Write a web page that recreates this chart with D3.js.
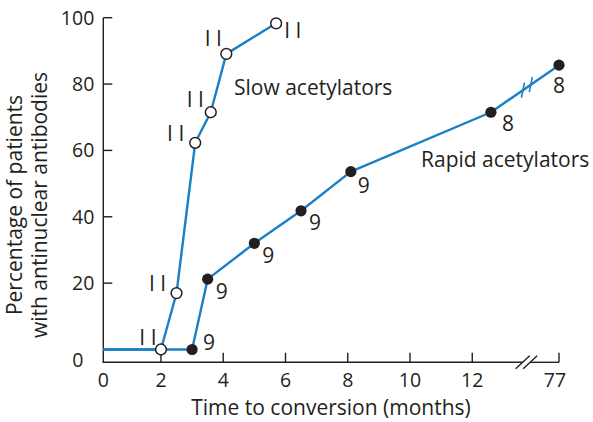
<!DOCTYPE html>
<html><head><meta charset="utf-8">
<script src="https://cdn.jsdelivr.net/npm/d3@7"></script>
<style>
body{margin:0;background:#fff}
text{font-family:"Open Sans",sans-serif;fill:#231f20}
</style>
</head><body>
<svg id="c" width="593" height="422"></svg>
<script>
// ---- data ----
const xTickValues = [2, 4, 6, 8, 10, 12, 77];
const yTickValues = [20, 40, 60, 80, 100];
const slowMonths = [2, 2.5, 3.1, 3.6, 4.1, 5.7];
const slowPct    = [0, 17, 62.3, 71.5, 89.1, 98.3];
const slowN      = ["I I", "I I", "I I", "I I", "I I", "I I"];
const rapidMonths = [3, 3.5, 5.0, 6.5, 8.1, 12.6, 77];
const rapidPct    = [0, 21.2, 32.0, 41.8, 53.6, 71.5, 85.7];
const rapidN      = ["9", "9", "9", "9", "9", "8", "8"];
const startMonth = 0, startPct = 0;
const seriesNames = ["Slow acetylators", "Rapid acetylators"];

// ---- layout ----
const svg = d3.select("#c");
const ink = "#231f20", blue = "#1b7fc6";
const origin = {x: 103.3, y: 362.3};
const x = d3.scaleLinear().domain([0, 14, 77]).range([98.7, 98.7 + 14 * 31.13, 559]);
const y = d3.scaleLinear().domain([0, 100]).range([349.5, 17.7]);
const fsTick = 19.5, fs = 21;

// clip so lines start at the y axis
svg.append("clipPath").attr("id", "clip").append("rect")
  .attr("x", origin.x).attr("y", 0).attr("width", 593).attr("height", 422);

// axes
const xEnd = x(77);
const b1 = x(13.62), b2 = x(13.86);
const axis = svg.append("g").attr("stroke", ink).attr("stroke-width", 1.4).attr("fill", "none");
axis.append("line").attr("x1", origin.x).attr("x2", origin.x).attr("y1", y(100)).attr("y2", origin.y);
axis.append("line").attr("x1", origin.x - 0.7).attr("x2", b1).attr("y1", origin.y).attr("y2", origin.y);
axis.append("line").attr("x1", b2).attr("x2", xEnd).attr("y1", origin.y).attr("y2", origin.y);
[b1, b2].forEach(bx => axis.append("line")
  .attr("x1", bx - 7).attr("y1", origin.y + 6.5).attr("x2", bx + 7).attr("y2", origin.y - 6.5));
// ticks
yTickValues.forEach(v => axis.append("line")
  .attr("x1", origin.x).attr("x2", origin.x + 9).attr("y1", y(v)).attr("y2", y(v)));
xTickValues.forEach(v => axis.append("line")
  .attr("x1", x(v)).attr("x2", x(v)).attr("y1", origin.y).attr("y2", origin.y - 9.5));

// tick labels
yTickValues.forEach(v => svg.append("text").attr("x", origin.x - 9).attr("y", y(v)).attr("dy", "0.35em")
  .attr("text-anchor", "end").attr("font-size", fsTick).text(v));
svg.append("text").attr("x", origin.x - 20).attr("y", origin.y - 2).attr("dy", "0.35em")
  .attr("text-anchor", "end").attr("font-size", fsTick).text(0);
xTickValues.forEach(v => svg.append("text").attr("x", x(v) - (v === 77 ? 4 : 0)).attr("y", 380).attr("dy", "0.35em")
  .attr("text-anchor", "middle").attr("font-size", fsTick).text(v));
svg.append("text").attr("x", origin.x).attr("y", 380).attr("dy", "0.35em")
  .attr("text-anchor", "middle").attr("font-size", fsTick).text(0);

// axis titles
svg.append("text").attr("x", 331).attr("y", 415).attr("text-anchor", "middle")
  .attr("font-size", fs).text("Time to conversion (months)");
const yt = svg.append("text").attr("transform", "translate(0,205) rotate(-90)")
  .attr("text-anchor", "middle").attr("font-size", fs);
yt.append("tspan").attr("x", 0).attr("y", 22).text("Percentage of patients");
yt.append("tspan").attr("x", 0).attr("y", 47).text("with antinuclear antibodies");

// series
const slow = slowMonths.map((m, i) => ({m, p: slowPct[i], n: slowN[i]}));
const rapid = rapidMonths.map((m, i) => ({m, p: rapidPct[i], n: rapidN[i]}));
const line = d3.line().x(d => x(d.m)).y(d => y(d.p));
const g = svg.append("g").attr("clip-path", "url(#clip)");
g.append("path").datum([{m: startMonth, p: startPct}, ...slow]).attr("d", line)
  .attr("fill", "none").attr("stroke", blue).attr("stroke-width", 2.4).attr("stroke-linejoin", "round");
g.append("path").datum([{m: startMonth, p: startPct}, ...rapid]).attr("d", line)
  .attr("fill", "none").attr("stroke", blue).attr("stroke-width", 2.4).attr("stroke-linejoin", "round");

// break marks on rapid line
const pA = rapid[5], pB = rapid[6];
[0.47, 0.585].forEach(t => {
  const cx = x(pA.m) + t * (x(pB.m) - x(pA.m));
  const cy = y(pA.p) + t * (y(pB.p) - y(pA.p));
  svg.append("line").attr("x1", cx - 1.5).attr("y1", cy + 7.5).attr("x2", cx + 1.5).attr("y2", cy - 7.5)
    .attr("stroke", blue).attr("stroke-width", 1.6);
});

// markers
svg.selectAll("circle.slow").data(slow).join("circle").attr("class", "slow")
  .attr("cx", d => x(d.m)).attr("cy", d => y(d.p)).attr("r", 5.4)
  .attr("fill", "#fff").attr("stroke", ink).attr("stroke-width", 1.5);
svg.selectAll("circle.rapid").data(rapid).join("circle").attr("class", "rapid")
  .attr("cx", d => x(d.m)).attr("cy", d => y(d.p)).attr("r", 5.6).attr("fill", ink);

// n labels
const slowOff = [[-13, -12], [-19, -9], [-19.5, -9], [-15.5, -12.6], [-13, -15], [16.6, 7.7]];
const rapidOff = [[17, -7], [14, 12], [14, 12], [14, 12], [13, 14], [17, 11], [0, 21]];
slow.forEach((d, i) => svg.append("text").attr("x", x(d.m) + slowOff[i][0]).attr("y", y(d.p) + slowOff[i][1])
  .attr("dy", "0.35em").attr("text-anchor", "middle").attr("font-size", fs).text(d.n));
rapid.forEach((d, i) => svg.append("text").attr("x", x(d.m) + rapidOff[i][0]).attr("y", y(d.p) + rapidOff[i][1])
  .attr("dy", "0.35em").attr("text-anchor", "middle").attr("font-size", fs).text(d.n));

// series labels
svg.append("text").attr("x", 234).attr("y", 95).attr("font-size", fs).text(seriesNames[0]);
svg.append("text").attr("x", 421).attr("y", 167).attr("font-size", fs).text(seriesNames[1]);
</script>
</body></html>
